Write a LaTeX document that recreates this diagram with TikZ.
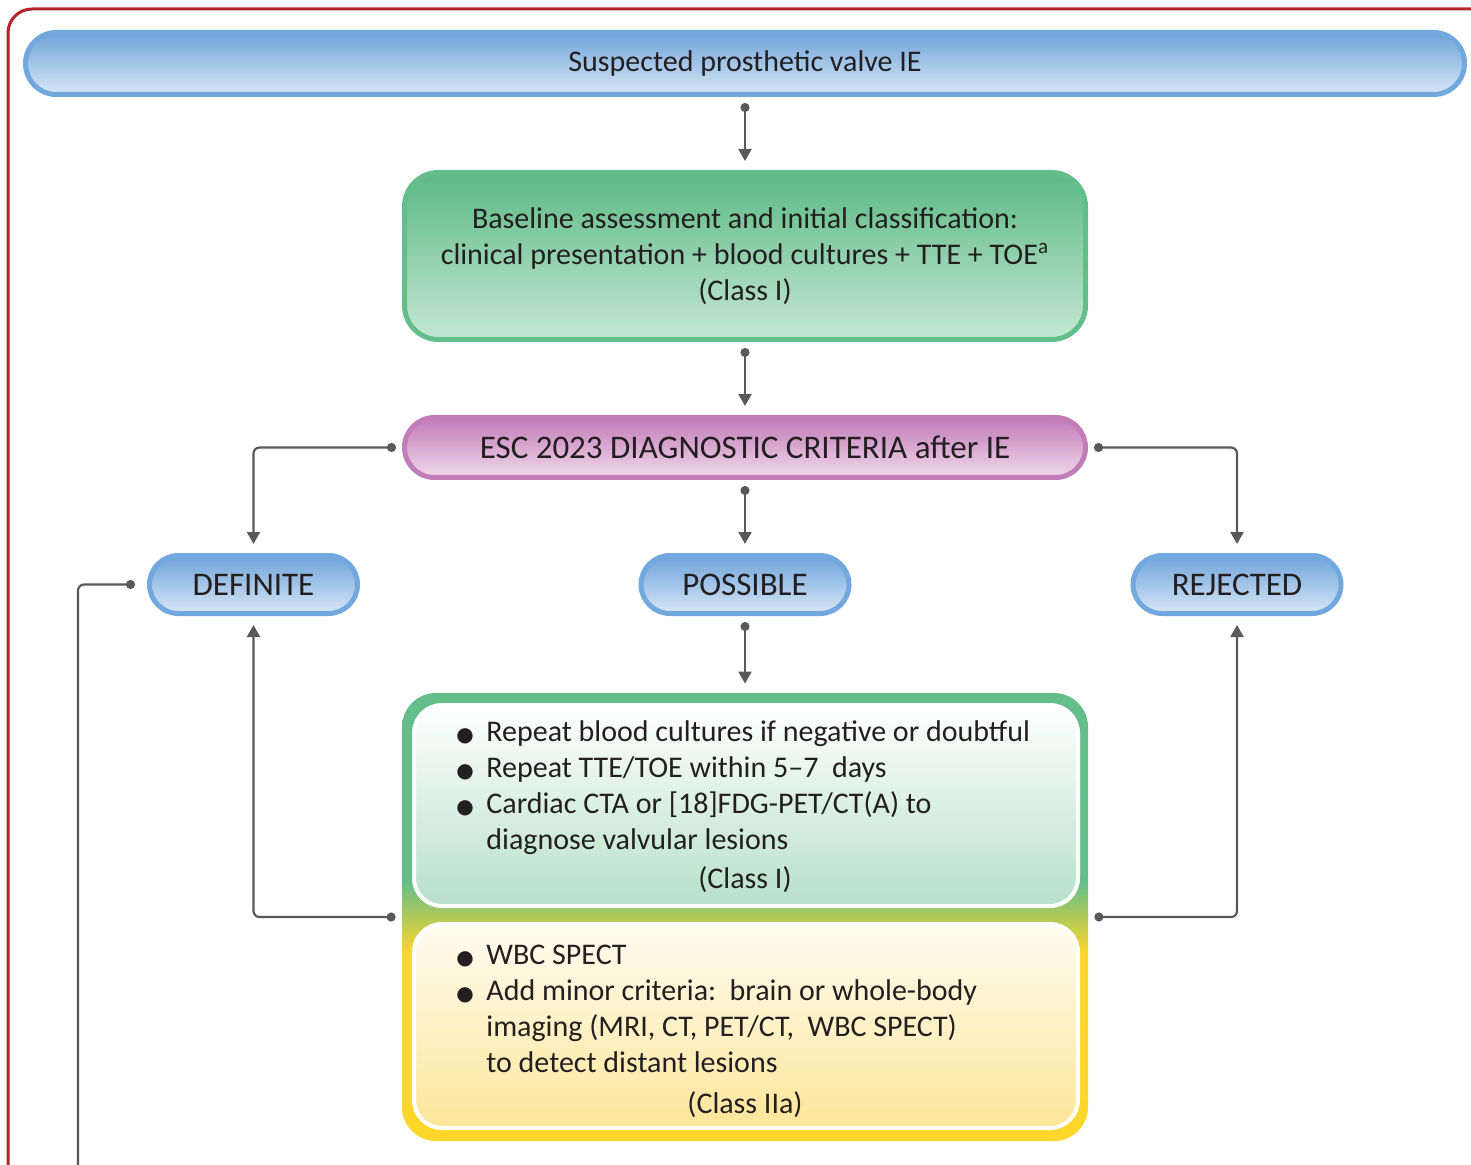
\documentclass[tikz,border=0pt]{standalone}
\usepackage{fontspec}
\setmainfont{Carlito}
\newfontfamily\symfont{DejaVu Sans}
\usetikzlibrary{arrows.meta}
\definecolor{frame}{HTML}{B1252B}
\definecolor{ink}{HTML}{231F20}
\definecolor{conngray}{HTML}{595959}
\definecolor{bluetop}{HTML}{6FA3D9}
\definecolor{bluebot}{HTML}{D8E7F6}
\definecolor{blueline}{HTML}{72A8DD}
\definecolor{greentop}{HTML}{5CB985}
\definecolor{greenbot}{HTML}{C6E8D4}
\definecolor{greenline}{HTML}{63BE8A}
\definecolor{purptop}{HTML}{C27AB7}
\definecolor{purpbot}{HTML}{F0DAEC}
\definecolor{purpline}{HTML}{C27DB8}
\definecolor{yellowline}{HTML}{FCD62B}
\definecolor{lightgreen}{HTML}{B7E0CA}
\definecolor{lightyellow}{HTML}{FDE69A}
\definecolor{creamtop}{HTML}{FFFCF0}
\pgfdeclareverticalshading{gy}{100bp}{color(0bp)=(yellowline); color(46bp)=(yellowline); color(54bp)=(greenline); color(100bp)=(greenline)}
\newcommand{\bul}{{\symfont\fontsize{10}{10}\selectfont ●}}

\begin{document}
\begin{tikzpicture}[x=0.5pt,y=-0.5pt,font=\fontsize{15}{18}\selectfont,text=ink]
\tikzstyle{pill}=[draw=blueline,line width=2.5pt,top color=bluetop,bottom color=bluebot,rounded corners=14.5pt,minimum width=104pt,minimum height=29pt,inner sep=0pt,font=\fontsize{16.5}{18}\selectfont]
\tikzstyle{greenbox}=[draw=greenline,line width=2.5pt,top color=greentop,bottom color=greenbot,rounded corners=17pt,minimum width=340.5pt,minimum height=83.5pt,align=center]
\tikzstyle{bigbox}=[shade,shading=gy,rounded corners=17pt,minimum width=343pt,minimum height=224pt,inner sep=0pt]
\tikzstyle{innerbox}=[draw=white,line width=2pt,rounded corners=14pt,minimum width=332pt,inner sep=0pt]
\tikzstyle{txt}=[inner sep=0pt]
\tikzstyle{conn}=[draw=conngray,line width=1.1pt,{Circle[length=4.5pt]}-{Triangle[length=6pt,width=6.5pt]},shorten <=3pt,shorten >=4.5pt,rounded corners=3pt]
\useasboundingbox (0,0) rectangle (1471,1165);
\draw[frame,line width=1.5pt,rounded corners=12pt] (8,1185) -- (8,9) -- (1495,9);
\node[pill,minimum width=719.5pt,minimum height=31pt,rounded corners=15.5pt,font=\fontsize{15}{18}\selectfont] (sus) at (745,63.5) {Suspected prosthetic valve IE};
\node[greenbox] (base) at (745,256) {Baseline assessment and initial classification:\\clinical presentation + blood cultures + TTE + TOE\textsuperscript{a}\\(Class I)};
\node[pill,draw=purpline,top color=purptop,bottom color=purpbot,minimum width=340.5pt,minimum height=30pt,rounded corners=15pt] (esc) at (745,447.5) {ESC 2023 DIAGNOSTIC CRITERIA after IE};
\node[pill] (def) at (253.5,584.5) {DEFINITE};
\node[pill] (pos) at (745,584.5) {POSSIBLE};
\node[pill] (rej) at (1237,584.5) {REJECTED};
\node[bigbox] (big) at (745,917) {};
\node[innerbox,top color=white,bottom color=lightgreen,minimum height=100.5pt] (reptop) at (746,805.5) {};
\node[innerbox,top color=creamtop,bottom color=lightyellow,minimum height=102pt] (repbot) at (746,1026) {};
\node[txt,anchor=base west] (listone) at (456,741) {\begin{tabular}[t]{@{}p{15pt}@{}l@{}}
\bul & Repeat blood cultures if negative or doubtful\\
\bul & Repeat TTE/TOE within 5–7\ \ days\\
\bul & Cardiac CTA or [18]FDG-PET/CT(A) to\\
 & diagnose valvular lesions
\end{tabular}};
\node[txt,anchor=base] (classone) at (745,888) {(Class I)};
\node[txt,anchor=base west] (listtwo) at (456,964) {\begin{tabular}[t]{@{}p{15pt}@{}l@{}}
\bul & WBC SPECT\\
\bul & Add minor criteria:\ \ brain or whole-body\\
 & imaging (MRI, CT, PET/CT,\ \ WBC SPECT)\\
 & to detect distant lesions
\end{tabular}};
\node[txt,anchor=base] (classtwo) at (745,1113) {(Class IIa)};
\coordinate (loopin) at (78,1190);
\draw[conn] (sus) -- (base);
\draw[conn] (base) -- (esc);
\draw[conn] (esc.west) -| (def.north);
\draw[conn] (esc) -- (pos);
\draw[conn] (esc.east) -| (rej.north);
\draw[conn] (pos) -- (big);
\draw[conn] (big.west) -| (def.south);
\draw[conn] (big.east) -| (rej.south);
\draw[conn,-{Circle[length=4.5pt]},shorten >=6pt] (loopin) |- (def.west);
\end{tikzpicture}
\end{document}
